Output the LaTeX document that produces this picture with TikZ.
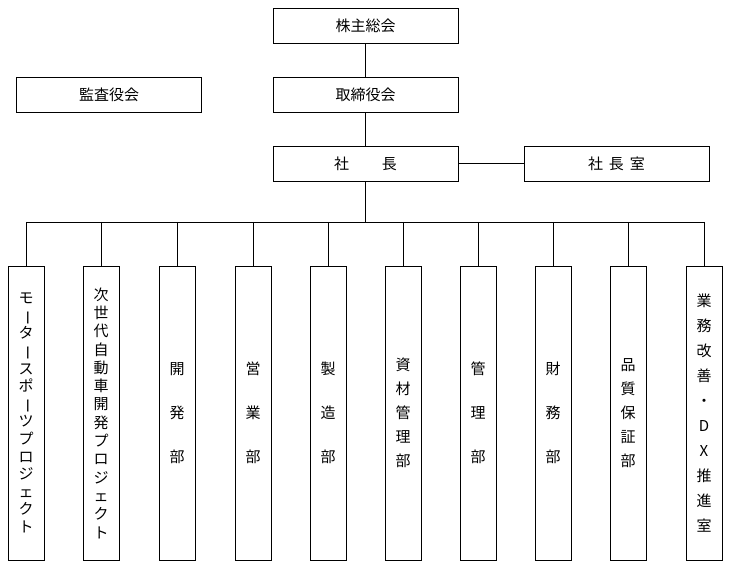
\documentclass[tikz,border=0pt]{standalone}
\usepackage{fontspec}
\setmainfont{Noto Sans CJK JP}
\usepackage{graphicx}
\newcommand{\vb}{\rotatebox[origin=c]{-90}{ー}}
\begin{document}
\begin{tikzpicture}[x=1pt,y=-1pt,
  box/.style={draw,line width=0.8pt,minimum width=185pt,minimum height=35pt,inner sep=0pt,font=\fontsize{15}{15}\selectfont},
  col/.style={draw,line width=0.8pt,minimum width=36pt,minimum height=294pt,inner sep=0pt,align=center},
  ln/.style={line width=0.6pt}]
\useasboundingbox (0,0) rectangle (730,569);
\node[box] (kab) at (365.5,25.5) {株主総会};
\node[box] (tori) at (365.5,94.5) {取締役会};
\node[box] (kan) at (109,94.5) {監査役会};
\node[box] (sha) at (365.5,163.5) {社\hspace{2.2em}長};
\node[box] (shi) at (616.5,163.5) {社\hspace{0.4em}長\hspace{0.4em}室};
\draw[ln] (kab) -- (tori);
\draw[ln] (tori) -- (sha);
\draw[ln] (sha) -- (shi);
\coordinate (bus) at (365.5,222);
\draw[ln] (sha) -- (bus);
\foreach \i/\x/\s/\t in {
 c1/26/17.6/{モ\\\vb\\タ\\\vb\\ス\\ポ\\\vb\\ツ\\プ\\ロ\\ジ\\ェ\\ク\\ト},
 c2/101/18.3/{次\\世\\代\\自\\動\\車\\開\\発\\プ\\ロ\\ジ\\ェ\\ク\\ト},
 c3/177/44/{開\\発\\部},
 c4/253/44/{営\\業\\部},
 c5/328/44/{製\\造\\部},
 c6/403/24/{資\\材\\管\\理\\部},
 c7/478/44/{管\\理\\部},
 c8/553/44/{財\\務\\部},
 c9/628/24/{品\\質\\保\\証\\部},
 c10/704/25/{業\\務\\改\\善\\・\\D\\X\\推\\進\\室}} {
  \node[col,font=\fontsize{15}{\s}\selectfont] (\i) at (\x,413) {\t};
  \coordinate (t\i) at (\x,222);
  \draw[ln] (t\i) -- (\i.north);
}
\draw[ln] (tc1) -- (tc10);
\end{tikzpicture}
\end{document}
